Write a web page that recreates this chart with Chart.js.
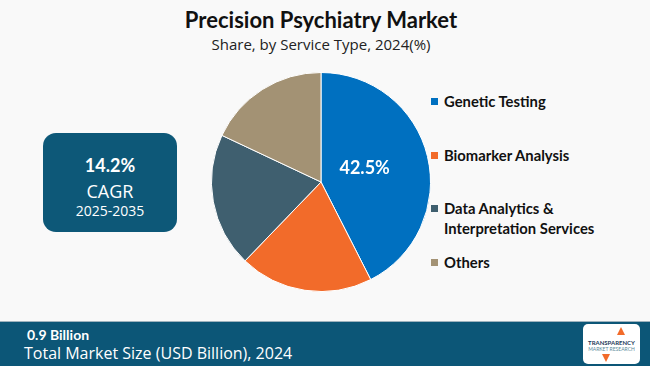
<!DOCTYPE html>
<html>
<head>
<meta charset="utf-8">
<script src="https://cdn.jsdelivr.net/npm/chart.js@4"></script>
<style>
  html, body { margin: 0; padding: 0; }
  body { width: 650px; height: 366px; background: #f9f9f9; position: relative; overflow: hidden; font-family: Lato, sans-serif; }
  .title { position: absolute; top: 6px; left: 0; width: 642px; text-align: center; font: bold 22px Lato, sans-serif; color: #111; }
  .subtitle { position: absolute; top: 34px; left: 0; width: 642px; text-align: center; font: 15px "Open Sans", sans-serif; color: #222; }
  #pieWrap { position: absolute; left: 211px; top: 72px; width: 220px; height: 220px; }
  .cagr { position: absolute; left: 43px; top: 133px; width: 134px; height: 99px; background: #0d5878; border-radius: 13px; color: #fff; text-align: center; }
  .cagr .v { position: absolute; top: 21px; width: 100%; font: bold 18px Lato, sans-serif; }
  .cagr .c { position: absolute; top: 46px; width: 100%; font: 18px "Open Sans", sans-serif; }
  .cagr .y { position: absolute; top: 68px; width: 100%; font: 14px "Open Sans", sans-serif; }
  .legend { position: absolute; left: 431px; top: 0; }
  .legend .item { position: absolute; white-space: nowrap; font: bold 14.8px Lato, sans-serif; color: #111; line-height: 20px; }
  .legend .sw { position: absolute; left: 0; width: 7px; height: 7px; }
  .legend .txt { position: absolute; left: 13px; top: 0; }
  .bar { position: absolute; left: 0; top: 321px; width: 650px; height: 45px; background: #0c5677; border-top: 1px solid #9fb3be; }
  .bar .big { position: absolute; left: 27px; top: 4px; font: bold 14px Lato, sans-serif; color: #fff; }
  .bar .small { position: absolute; left: 24px; top: 20px; font: 16px "Open Sans", sans-serif; color: #fff; }
  .logo { position: absolute; left: 583px; top: 2px; width: 57px; height: 40px; background: #fff; border-radius: 5px; text-align: center; }
  .logo .t1 { position: absolute; top: 15px; width: 100%; font: bold 6px Lato, sans-serif; color: #1b3a5a; }
  .logo .t2 { position: absolute; top: 22px; width: 100%; font: 5px Lato, sans-serif; color: #5a8a9a; }
  .logo .a1 { position: absolute; left: 34px; top: 3px; width: 0; height: 0; border-left: 4px solid transparent; border-right: 4px solid transparent; border-bottom: 8px solid #f26b2a; }
  .logo .a2 { position: absolute; left: 19px; top: 30px; width: 0; height: 0; border-left: 4px solid transparent; border-right: 4px solid transparent; border-top: 8px solid #f26b2a; }
</style>
</head>
<body>
<div class="title">Precision Psychiatry Market</div>
<div class="subtitle">Share, by Service Type, 2024(%)</div>

<div class="cagr">
  <div class="v">14.2%</div>
  <div class="c">CAGR</div>
  <div class="y">2025-2035</div>
</div>

<div id="pieWrap"><canvas id="pie"></canvas></div>
<div class="legend" id="legend"></div>

<div class="bar">
  <div class="big">0.9 Billion</div>
  <div class="small">Total Market Size (USD Billion), 2024</div>
  <div class="logo"><div class="a1"></div><div class="t1">TRANSPARENCY</div><div class="t2">MARKET RESEARCH</div><div class="a2"></div></div>
</div>

<script>
// service types, shares (%), slice colours
var labels = ["Genetic Testing", "Biomarker Analysis", "Data Analytics & Interpretation Services", "Others"];
var legendLines = [["Genetic Testing"], ["Biomarker Analysis"], ["Data Analytics &", "Interpretation Services"], ["Others"]];
var shares = [42.5, 19.7, 19.8, 18.0];
var colors = ["#0070c0", "#f26b2a", "#3f5f6f", "#a39274"];
var legendTops = [91, 145, 198, 252];

// legend built by hand, spacing is wide in the original
var legend = document.getElementById('legend');
legendLines.forEach(function(lines, i) {
  var item = document.createElement('div');
  item.className = 'item';
  item.style.top = legendTops[i] + 'px';
  var sw = document.createElement('div');
  sw.className = 'sw';
  sw.style.top = '7px';
  sw.style.background = colors[i];
  item.appendChild(sw);
  var txt = document.createElement('div');
  txt.className = 'txt';
  txt.innerHTML = lines.map(function(s) { return s.replace('&', '&amp;'); }).join('<br>');
  item.appendChild(txt);
  legend.appendChild(item);
});

// only the biggest slice carries a value label
var sliceLabel = {
  id: 'sliceLabel',
  afterDatasetsDraw: function(chart) {
    var arc = chart.getDatasetMeta(0).data[0];
    var mid = (arc.startAngle + arc.endAngle) / 2;
    var r = arc.outerRadius * 0.41;
    var ctx = chart.ctx;
    ctx.save();
    ctx.fillStyle = '#fff';
    ctx.font = 'bold 18px Lato, sans-serif';
    ctx.textAlign = 'center';
    ctx.textBaseline = 'middle';
    ctx.fillText(shares[0].toFixed(1) + '%', arc.x + Math.cos(mid) * r, arc.y + Math.sin(mid) * r - 3);
    ctx.restore();
  }
};

new Chart(document.getElementById('pie'), {
  type: 'pie',
  data: {
    labels: labels,
    datasets: [{
      data: shares,
      backgroundColor: colors,
      borderColor: '#ffffff',
      borderWidth: 1
    }]
  },
  options: {
    responsive: true,
    maintainAspectRatio: false,
    animation: false,
    layout: { padding: 0 },
    plugins: {
      legend: { display: false },
      tooltip: { enabled: false }
    }
  },
  plugins: [sliceLabel]
});
</script>
</body>
</html>
